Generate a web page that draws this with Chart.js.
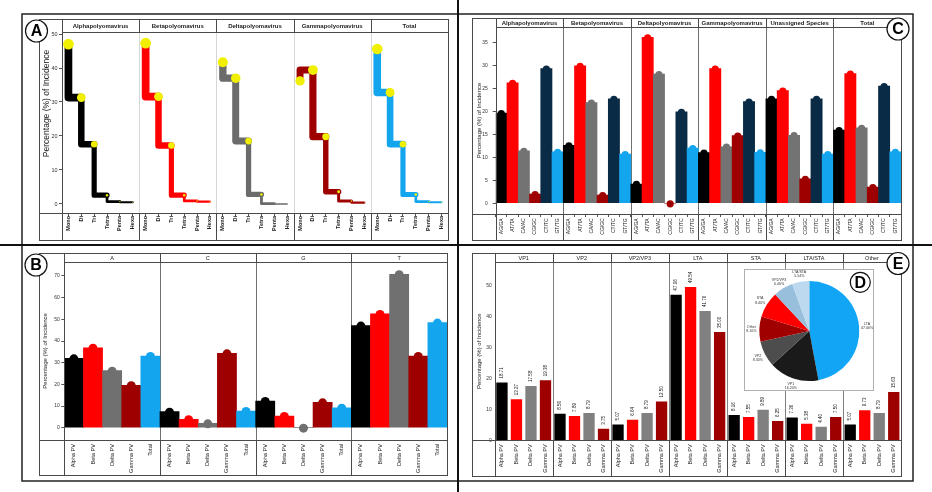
<!DOCTYPE html>
<html><head><meta charset="utf-8">
<script src="https://cdn.jsdelivr.net/npm/chart.js@4.4.1/dist/chart.umd.min.js"></script>
<style>
html,body{margin:0;padding:0;background:#fff;}
#wrap{position:relative;width:932px;height:492px;overflow:hidden;background:#fff;}
#wrap canvas{position:absolute;left:0;top:0;}
</style></head><body><div id="wrap">
<canvas id="cA" width="932" height="492"></canvas>
<canvas id="cC" width="932" height="492"></canvas>
<canvas id="cB" width="932" height="492"></canvas>
<canvas id="cE" width="932" height="492"></canvas>
<canvas id="cD" width="932" height="492"></canvas>
</div>
<script>
// ---------------- DATA ----------------
// Panel A : polymer step profile
const stepLabels = ['Mono','Di','Tri','Tetra','Penta','Hexa'];
const speciesA = ['Alphapolyomavirus','Betapolyomavirus','Deltapolyomavirus','Gammapolyomavirus','Total'];
const alphaSteps = [47.0, 31.3, 17.6, 2.6, 0.7, 0.5];
const betaSteps  = [47.3, 31.6, 17.2, 2.6, 0.9, 0.7];
const deltaSteps = [41.7, 37.0, 18.5, 2.8, 0.1, 0.0];
const gammaSteps = [36.2, 39.4, 19.8, 3.6, 0.9, 0.4];
const totalSteps = [45.6, 32.8, 17.6, 2.8, 0.7, 0.5];
const yTicksA = [0,10,20,30,40,50];

// Panel C : dinucleotide pairs
const pairLabels = ['AG/GA','AT/TA','CA/AC','CG/GC','CT/TC','GT/TG'];
const speciesC = ['Alphapolyomavirus','Betapolyomavirus','Deltapolyomavirus','Gammapolyomavirus','Unassigned Species','Total'];
const alphaPairs      = [19.6, 26.2, 11.4, 2.0, 29.3, 11.2];
const betaPairs       = [12.6, 29.9, 21.9, 1.8, 22.7, 10.7];
const deltaPairs      = [4.2, 36.1, 28.1, 0.0, 19.9, 12.0];
const gammaPairs      = [11.0, 29.3, 12.3, 14.7, 22.1, 11.1];
const unassignedPairs = [22.7, 24.5, 14.8, 5.3, 22.7, 10.7];
const totalPairs      = [15.9, 28.2, 16.4, 3.5, 25.5, 11.2];
const yTicksC = [0,5,10,15,20,25,30,35];

// Panel B : mononucleotides
const groupLabelsB = ['Alpha PV','Beta PV','Delta PV','Gamma PV','Total'];
const nucleotides = ['A','C','G','T'];
const nucA = [32.0, 36.9, 26.3, 19.6, 33.1];
const nucC = [7.4, 3.9, 2.0, 34.3, 7.7];
const nucG = [12.3, 5.4, 0.0, 11.7, 9.2];
const nucT = [47.1, 52.5, 70.8, 33.1, 48.5];
const yTicksB = [0,10,20,30,40,50,60,70];

// Panel E : genomic regions
const groupLabelsE = ['Alpha PV','Beta PV','Delta PV','Gamma PV'];
const regions = ['VP1','VP2','VP2/VP3','LTA','STA','LTA/STA','Other'];
const alphaPV = [18.71, 8.56, 5.07, 47.06, 8.16, 7.36, 5.07];
const betaPV  = [13.27, 7.89, 6.64, 49.54, 7.55, 5.38, 9.73];
const deltaPV = [17.58, 8.79, 8.79, 41.76, 9.89, 4.40, 8.79];
const gammaPV = [19.38, 3.75, 12.50, 35.00, 6.25, 7.50, 15.63];
const yTicksE = [0,10,20,30,40,50];

// Panel D : pie
const pieLabels = ['LTA','VP1','VP2','Other','STA','VP2/VP3','LTA/STA'];
const pieValues = [47.06, 16.20, 8.30, 8.10, 8.40, 6.40, 5.54];

// ---------------- STYLE ----------------
const FONT = '"Liberation Sans", Arial, sans-serif';
Chart.defaults.font.family = FONT;
Chart.defaults.color = '#222';
const C_BLACK='#000000', C_RED='#ff0000', C_GREY='#707070', C_DRED='#9e0000', C_BLUE='#14a5ef', C_NAVY='#0a2b45';

function line(ctx,x1,y1,x2,y2){ctx.beginPath();ctx.moveTo(x1,y1);ctx.lineTo(x2,y2);ctx.stroke();}
function letter(ctx,x,y,r,ch){
  ctx.save();ctx.beginPath();ctx.arc(x,y,r,0,2*Math.PI);ctx.fillStyle='#fff';ctx.fill();
  ctx.lineWidth=1.2;ctx.strokeStyle='#111';ctx.stroke();
  ctx.fillStyle='#000';ctx.font='bold 16px '+FONT;ctx.textAlign='center';ctx.textBaseline='middle';
  ctx.fillText(ch,x,y+1);ctx.restore();
}
function framePlugin(cfg){
  return {
    id:'frame'+cfg.key,
    beforeDatasetsDraw(chart){
      const ctx=chart.ctx,a=chart.chartArea,n=cfg.headers.length,fw=(a.right-a.left)/n;
      ctx.save();ctx.strokeStyle=cfg.sepColor;ctx.lineWidth=1;
      for(let i=1;i<n;i++){const x=Math.round(a.left+i*fw)+0.5;line(ctx,x,a.top,x,a.bottom);}
      ctx.restore();
    },
    afterDraw(chart){
      const ctx=chart.ctx,a=chart.chartArea,n=cfg.headers.length,fw=(a.right-a.left)/n;
      ctx.save();ctx.strokeStyle='#4a4a4a';ctx.lineWidth=1;
      const L=Math.round(cfg.boxL)+0.5,T=Math.round(cfg.boxT)+0.5,R=Math.round(a.right)+0.5,B=Math.round(cfg.boxB)+0.5;
      ctx.strokeRect(L,T,R-L,B-T);
      const xl=Math.round(a.left)+0.5, yt=Math.round(a.top)+0.5, yb=Math.round(a.bottom)+0.5;
      line(ctx,xl,T,xl,B);
      line(ctx,xl,yt,R,yt);
      line(ctx,L,yb,R,yb);
      for(let i=1;i<n;i++){const x=Math.round(a.left+i*fw)+0.5;line(ctx,x,T,x,yt);line(ctx,x,yb,x,B);}
      ctx.fillStyle='#222';ctx.font=cfg.headerFont;ctx.textAlign='center';ctx.textBaseline='middle';
      cfg.headers.forEach((h,i)=>ctx.fillText(h,a.left+(i+0.5)*fw,(cfg.boxT+a.top)/2+0.5));
      if(cfg.yTitle){
        ctx.save();ctx.translate(cfg.yTitle.x,cfg.yTitle.y);ctx.rotate(-Math.PI/2);
        ctx.font=cfg.yTitle.font;ctx.fillText(cfg.yTitle.text,0,0);ctx.restore();
      }
      ctx.restore();
      letter(ctx,cfg.letter[0],cfg.letter[1],11,cfg.letter[2]);
      if(cfg.outer){
        ctx.save();ctx.strokeStyle='#222';ctx.lineWidth=1.5;
        ctx.strokeRect(22,14,891,467);
        ctx.lineWidth=2;ctx.strokeStyle='#111';
        line(ctx,458,0,458,492);line(ctx,0,245,932,245);
        ctx.restore();
      }
    }
  };
}
function bumpPlugin(key,r,dy){
  return {id:'bump'+key, afterDatasetsDraw(chart){
    const ctx=chart.ctx,meta=chart.getDatasetMeta(0),ds=chart.data.datasets[0];
    ctx.save();
    meta.data.forEach((el,i)=>{ctx.fillStyle=ds.backgroundColor[i];ctx.beginPath();ctx.arc(el.x,el.y+dy,r,0,2*Math.PI);ctx.fill();});
    ctx.restore();
  }};
}
function padFacet(arr,i,n,per){const out=new Array(n*per).fill(null);arr.forEach((v,j)=>out[i*per+j]=v);return out;}
function fixedTicks(list){return s=>{s.ticks=list.map(v=>({value:v}));};}
const baseOpts = {responsive:false,animation:false,devicePixelRatio:1,
  plugins:{legend:{display:false},tooltip:{enabled:false}}};

// ---------------- PANEL A ----------------
const stepSeries=[alphaSteps,betaSteps,deltaSteps,gammaSteps,totalSteps];
const stepColors=[C_BLACK,C_RED,'#6b6b6b',C_DRED,C_BLUE];
new Chart(document.getElementById('cA'),{
  type:'line',
  data:{labels:speciesA.flatMap(()=>stepLabels),
    datasets:stepSeries.map((s,i)=>({
      data:padFacet(s,i,5,6),borderColor:stepColors[i],stepped:'after',spanGaps:false,fill:false,
      borderCapStyle:'round',borderJoinStyle:'round',
      segment:{borderWidth:c=>1.2+0.95*Math.sqrt(Math.max(c.p0.parsed.y,0))},
      pointRadius:c=>c.raw==null?0:0.78*Math.sqrt(c.raw),
      pointBackgroundColor:'#f0f000',pointBorderWidth:0,pointHoverRadius:0
    }))},
  options:{...baseOpts,
    layout:{padding:{left:42,top:32,right:484,bottom:252}},
    scales:{
      x:{offset:true,grid:{display:true,drawOnChartArea:false,tickLength:3,color:'#555'},border:{display:false},
         ticks:{autoSkip:false,minRotation:90,maxRotation:90,padding:0,color:'#222',font:{size:5.5,weight:'bold'}},
         afterFit:s=>{s.height=27;}},
      y:{min:-2.65,max:50.59,afterBuildTicks:fixedTicks(yTicksA),
         grid:{drawOnChartArea:false,tickLength:3,color:'#555'},border:{display:false},
         ticks:{padding:1.5,color:'#333',font:{size:5.5}},afterFit:s=>{s.width=20;}}
    }},
  plugins:[framePlugin({key:'A',boxL:39,boxT:19,boxB:240,headers:speciesA,headerFont:'bold 6px '+FONT,sepColor:'#d6d6d6',
    letter:[36.5,31,'A'],outer:true,
    yTitle:{x:46.5,y:103.5,text:'Percentage (%) of Incidence',font:'8.5px '+FONT}})]
});

// ---------------- PANEL C ----------------
const pairSeries=[alphaPairs,betaPairs,deltaPairs,gammaPairs,unassignedPairs,totalPairs];
const pairColors=[C_BLACK,C_RED,'#737373',C_DRED,C_NAVY,C_BLUE];
new Chart(document.getElementById('cC'),{
  type:'bar',
  data:{labels:speciesC.flatMap(()=>pairLabels),
    datasets:[{data:pairSeries.flat(),backgroundColor:pairSeries.flatMap(()=>pairColors),
      categoryPercentage:1,barPercentage:1,borderWidth:0}]},
  options:{...baseOpts,
    layout:{padding:{left:475.4,top:27,right:31,bottom:252}},
    scales:{
      x:{grid:{display:true,drawOnChartArea:false,tickLength:3,color:'#555'},border:{display:false},
         ticks:{autoSkip:false,minRotation:90,maxRotation:90,padding:1.3,color:'#222',font:{size:5}},
         afterFit:s=>{s.height=26;}},
      y:{min:-2.33,max:38.33,afterBuildTicks:fixedTicks(yTicksC),
         grid:{drawOnChartArea:false,tickLength:3,color:'#555'},border:{display:false},
         title:{display:true,text:'Percentage (%) of Incidence',padding:0,color:'#222',font:{size:6}},
         ticks:{padding:5,color:'#333',font:{size:5}},afterFit:s=>{s.width=20.3;}}
    }},
  plugins:[bumpPlugin('C',3.6,0.5),framePlugin({key:'C',boxL:472,boxT:18,boxB:240,headers:speciesC,headerFont:'bold 6px '+FONT,sepColor:'#707070',letter:[898,29,'C']})]
});

// ---------------- PANEL B ----------------
const nucSeries=[nucA,nucC,nucG,nucT];
const groupColorsB=[C_BLACK,C_RED,C_GREY,C_DRED,C_BLUE];
new Chart(document.getElementById('cB'),{
  type:'bar',
  data:{labels:nucleotides.flatMap(()=>groupLabelsB),
    datasets:[{data:nucSeries.flat(),backgroundColor:nucSeries.flatMap(()=>groupColorsB),
      categoryPercentage:1,barPercentage:1,borderWidth:0}]},
  options:{...baseOpts,
    layout:{padding:{left:42.1,top:262,right:485,bottom:17}},
    scales:{
      x:{grid:{display:false,drawTicks:false,tickLength:0},border:{display:false},
         ticks:{autoSkip:false,minRotation:90,maxRotation:90,padding:4,color:'#222',font:{size:5.6}},
         afterFit:s=>{s.height=35;}},
      y:{min:-5.68,max:76.46,afterBuildTicks:fixedTicks(yTicksB),
         grid:{drawOnChartArea:false,tickLength:3,color:'#555'},border:{display:false},
         title:{display:true,text:'Percentage (%) of Incidence',padding:0,color:'#222',font:{size:6}},
         ticks:{padding:1.5,color:'#333',font:{size:5}},afterFit:s=>{s.width=22.2;}}
    }},
  plugins:[bumpPlugin('B',4.5,0.5),framePlugin({key:'B',boxL:39,boxT:253,boxB:475,headers:nucleotides,headerFont:'5.5px '+FONT,sepColor:'#707070',letter:[36,265,'B']})]
});

// ---------------- PANEL E ----------------
const pvSeries=[alphaPV,betaPV,deltaPV,gammaPV];
const groupColorsE=[C_BLACK,C_RED,'#808080',C_DRED];
const regionValues=regions.flatMap((r,i)=>pvSeries.map(s=>s[i]));
new Chart(document.getElementById('cE'),{
  type:'bar',
  data:{labels:regions.flatMap(()=>groupLabelsE),
    datasets:[{data:regionValues,backgroundColor:regions.flatMap(()=>groupColorsE),
      categoryPercentage:1,barPercentage:0.78,borderWidth:0}]},
  options:{...baseOpts,
    layout:{padding:{left:475.4,top:262,right:31,bottom:16.3}},
    scales:{
      x:{grid:{display:false,drawTicks:false,tickLength:0},border:{display:false},
         ticks:{autoSkip:false,minRotation:90,maxRotation:90,padding:4,color:'#222',font:{size:5.5}},
         afterFit:s=>{s.height=35.4;}},
      y:{min:0,max:57.6,afterBuildTicks:fixedTicks(yTicksE),
         grid:{display:false,drawTicks:false,tickLength:0},border:{display:false},
         title:{display:true,text:'Percentage (%) of Incidence',padding:0,color:'#222',font:{size:6}},
         ticks:{padding:3,color:'#333',font:{size:5}},afterFit:s=>{s.width=19.3;}}
    }},
  plugins:[{id:'valLabels',afterDatasetsDraw(chart){
      const ctx=chart.ctx,meta=chart.getDatasetMeta(0),vals=chart.data.datasets[0].data;
      ctx.save();ctx.fillStyle='#111';ctx.font='4.5px '+FONT;ctx.textAlign='left';ctx.textBaseline='middle';
      meta.data.forEach((el,i)=>{ctx.save();ctx.translate(el.x,el.y-4);ctx.rotate(-Math.PI/2);ctx.fillText(vals[i].toFixed(2),0,0);ctx.restore();});
      ctx.restore();}},
    framePlugin({key:'E',boxL:472,boxT:253,boxB:475.7,headers:regions,headerFont:'5.5px '+FONT,sepColor:'#808080',letter:[898,263.5,'E']})]
});

// ---------------- PANEL D (pie) ----------------
new Chart(document.getElementById('cD'),{
  type:'pie',
  data:{labels:pieLabels,datasets:[{data:pieValues,
    backgroundColor:['#12a5f5','#1a1a1a','#4d4d4d','#a00000','#ff0000','#98bfdc','#bcd9ef'],borderWidth:0}]},
  options:{...baseOpts,
    layout:{padding:{left:759.3,right:72.7,top:281,bottom:111}}},
  plugins:[{id:'pieBox',beforeDraw(chart){
      const ctx=chart.ctx;ctx.save();ctx.fillStyle='#fff';ctx.fillRect(744,269,130,122);
      ctx.strokeStyle='#b0b0b0';ctx.lineWidth=1;ctx.strokeRect(744.5,269.5,129,121);ctx.restore();},
    afterDraw(chart){
      const ctx=chart.ctx,meta=chart.getDatasetMeta(0);
      ctx.save();ctx.fillStyle='#333';ctx.font='3.6px '+FONT;ctx.textBaseline='middle';
      meta.data.forEach((arc,i)=>{
        const mid=(arc.startAngle+arc.endAngle)/2,r=arc.outerRadius+8;
        const x=arc.x+Math.cos(mid)*r,y=arc.y+Math.sin(mid)*r;
        ctx.textAlign='center';
        ctx.fillText(pieLabels[i],x,y-2);
        ctx.fillText(pieValues[i].toFixed(2)+'%',x,y+2.2);
      });
      ctx.restore();
      letter(ctx,860.3,282.3,10,'D');
    }}]
});
</script></body></html>
